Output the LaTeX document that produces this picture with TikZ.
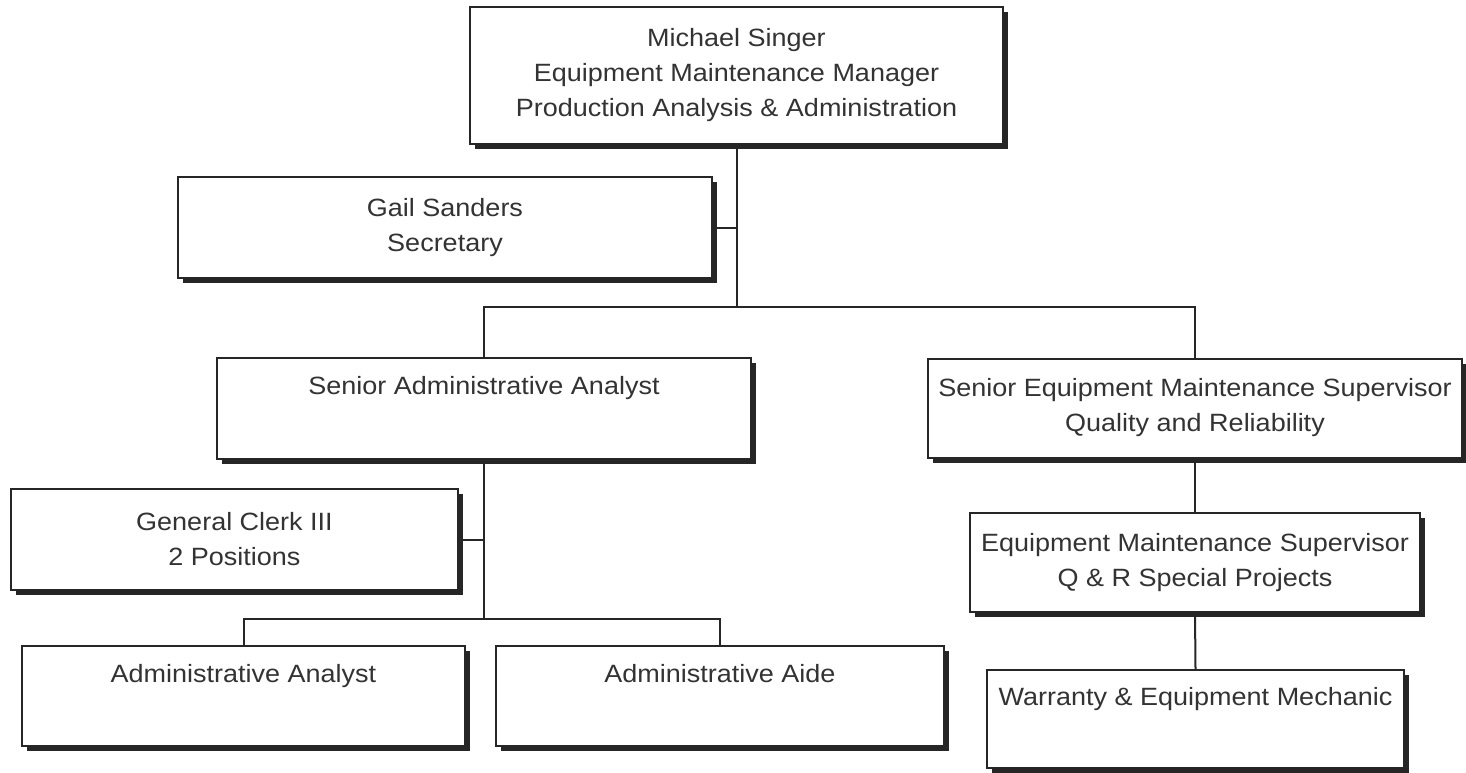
\documentclass[tikz,border=0pt]{standalone}
\usepackage{fontspec}
\setmainfont{Liberation Sans}[FakeStretch=1.08]
\usetikzlibrary{shadows}

\begin{document}
\begin{tikzpicture}[x=1pt,y=1pt,line width=2pt,draw=black!85]
    \tikzstyle{post}=[rectangle,draw=black!85,fill=white,align=center,text=black!80,
        font=\fontsize{25}{35}\selectfont,minimum height=100pt,inner sep=0pt,
        drop shadow={shadow xshift=5pt,shadow yshift=-5pt,fill=black!85,opacity=1}]
    \tikzstyle{link}=[line width=2pt,draw=black!85]
    \useasboundingbox (0,0) rectangle (1466,-773);
    % top
    \node[post,minimum width=533pt,minimum height=137pt] (mgr) at (736.5,-75.5)
        {Michael Singer\\Equipment Maintenance Manager\\Production Analysis \& Administration};
    \node[post,minimum width=534pt,minimum height=101pt] (sec) at (445,-227.5) {Gail Sanders\\Secretary};
    % left branch
    \node[post,minimum width=534pt,minimum height=101pt] (saa) at (484,-408.5) {Senior Administrative Analyst\\\strut};
    \node[post,minimum width=447pt,minimum height=101pt] (gc) at (234.5,-539.5) {General Clerk III\\2 Positions};
    \node[post,minimum width=443pt] (aa) at (243.5,-696) {Administrative Analyst\\\strut};
    \node[post,minimum width=448pt] (aide) at (720,-696) {Administrative Aide\\\strut};
    % right branch
    \node[post,minimum width=534pt,minimum height=99pt] (sems) at (1195,-408)
        {Senior Equipment Maintenance Supervisor\\Quality and Reliability};
    \node[post,minimum width=450pt,minimum height=99pt] (ems) at (1195,-562.5)
        {Equipment Maintenance Supervisor\\Q \& R Special Projects};
    \node[post,minimum width=417pt,minimum height=98pt] (war) at (1195.5,-719)
        {Warranty \& Equipment Mechanic\\\strut};
    % lines
    \coordinate (bar) at (736.5,-307);
    \coordinate (bar2) at (484,-619);
    \draw[link] (mgr.south) -- (bar);
    \draw[link] (sec.east) -- (sec.east -| mgr.south);
    \draw[link] (saa.north) |- (bar) -| (sems.north);
    \draw[link] (saa.south) -- (bar2);
    \draw[link] (gc.east) -- (gc.east -| saa.south);
    \draw[link] (aa.north) |- (bar2) -| (aide.north);
    \draw[link] (sems.south) -- (ems.north);
    \draw[link] (ems.south) -- (war.north);
\end{tikzpicture}
\end{document}
